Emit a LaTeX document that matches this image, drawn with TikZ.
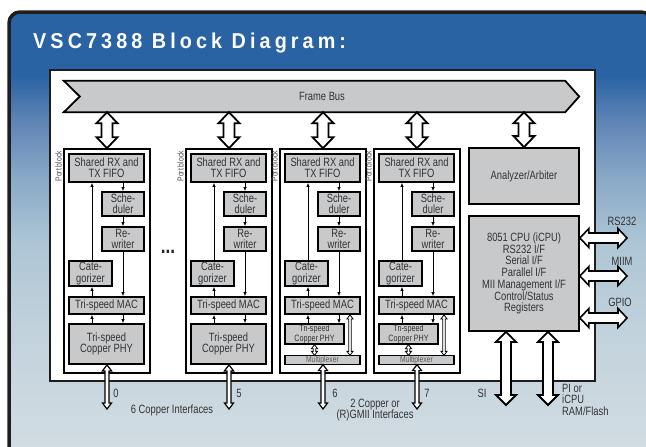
\documentclass[tikz,border=0pt]{standalone}
\usepackage{fontspec}
\setmainfont{Liberation Sans}[FakeStretch=0.78]
\newfontfamily\titlefont{Liberation Sans}[FakeStretch=0.92,LetterSpace=19]
\usetikzlibrary{calc,arrows.meta}
\definecolor{boxgrey}{HTML}{C8C9CB}
\definecolor{txt}{HTML}{333333}
\definecolor{frm}{HTML}{1E1E1E}
\definecolor{bgA}{HTML}{2963A4}
\definecolor{bgB}{HTML}{5E84B5}
\definecolor{bgC}{HTML}{8AAAC8}
\definecolor{bgD}{HTML}{ADC5D5}
\definecolor{bgE}{HTML}{C2D2DC}
\definecolor{bgF}{HTML}{D2DCE2}
\pgfdeclareverticalshading{bgshade}{100bp}{color(0bp)=(bgF); color(27.5bp)=(bgF); color(40bp)=(bgE); color(50bp)=(bgD); color(56.7bp)=(bgC); color(63.2bp)=(bgB); color(68bp)=(bgA); color(100bp)=(bgA)}
\tikzset{
  fatarrow/.style n args={3}{to path={
    let \p1=(\tikztostart), \p2=(\tikztotarget),
        \n1={atan2(\y2-\y1,\x2-\x1)}, \n2={veclen(\x2-\x1,\y2-\y1)} in
    ([shift={(\p1)},rotate=\n1]0,0)
    -- ([shift={(\p1)},rotate=\n1]#3,#1)
    -- ([shift={(\p1)},rotate=\n1]#3,#2)
    -- ([shift={(\p1)},rotate=\n1]\n2-#3,#2)
    -- ([shift={(\p1)},rotate=\n1]\n2-#3,#1)
    -- ([shift={(\p1)},rotate=\n1]\n2,0)
    -- ([shift={(\p1)},rotate=\n1]\n2-#3,-#1)
    -- ([shift={(\p1)},rotate=\n1]\n2-#3,-#2)
    -- ([shift={(\p1)},rotate=\n1]#3,-#2)
    -- ([shift={(\p1)},rotate=\n1]#3,-#1)
    -- cycle}},
  bigfat/.style={fatarrow={10.5}{5.5}{11}, draw=black, fill=white, line width=1.8pt, line join=miter},
  sifat/.style={fatarrow={10}{5}{10}, draw=black, fill=white, line width=1.8pt, line join=miter},
  sidefat/.style={fatarrow={9.5}{5}{9}, draw=black, fill=white, line width=1.6pt, line join=miter},
  portfat/.style={fatarrow={4.5}{2}{6}, draw=black, fill=white, line width=1.2pt, line join=miter},
  thinfat/.style={fatarrow={3}{1.3}{4}, draw=black, fill=white, line width=0.8pt, line join=miter},
  box/.style={draw=black, line width=1.8pt, fill=boxgrey, inner sep=0pt, align=center, text=txt, font=\fontsize{12}{11.3}\selectfont},
  smallbox/.style={box, line width=1.3pt, font=\fontsize{9.2}{7}\selectfont},
  muxbox/.style={box, line width=1.1pt, font=\fontsize{8.7}{8}\selectfont, text=black!65},
  pblock/.style={draw=black, line width=1.6pt, fill=white, inner sep=0pt},
  mainbox/.style={draw=frm, line width=2.4pt, fill=white, inner sep=0pt},
  plabel/.style={rotate=90, inner sep=0pt, font=\fontsize{8.7}{8}\selectfont, text=black!70},
  lbl/.style={inner sep=0pt, text=txt, font=\fontsize{12}{11.5}\selectfont, align=center},
  sa/.style={-{Latex[length=4pt,width=3.6pt]}, line width=0.7pt, draw=black},
}
\newcommand\bx[7]{\node[#6, minimum width={(#4-(#2))*1pt}, minimum height={(#5-(#3))*1pt}] (#1) at ({(#2+#4)/2},{(#3+#5)/2}) {#7};}
\newcommand\portblock[3]{%
  \pgfmathsetmacro\xo{#2}%
  \bx{#1blk}{\xo}{149}{\xo+86}{373}{pblock}{}
  \node[plabel, anchor=south east] (#1lab) at (\xo-2,151) {Port block};
  \bx{#1fifo}{\xo+5}{154}{\xo+80}{182}{box}{Shared RX and\\TX FIFO}
  \bx{#1sch}{\xo+38}{192}{\xo+80}{216}{box}{Sche-\\duler}
  \bx{#1rw}{\xo+38}{227}{\xo+80}{251}{box}{Re-\\writer}
  \bx{#1cat}{\xo+5}{261}{\xo+48}{286}{box}{Cate-\\gorizer}
  \bx{#1mac}{\xo+5}{297}{\xo+80}{314}{box}{Tri-speed MAC}
  \coordinate (#1L) at (\xo+28,0);
  \coordinate (#1out) at (\xo+43,409);
  \ifnum#3=1\relax
    \bx{#1phy}{\xo+5}{324}{\xo+80}{364}{box}{Tri-speed\\Copper PHY}
    \draw[portfat] (#1phy.south -| #1out) to (#1out);
  \else
    \bx{#1phy}{\xo+5}{324}{\xo+64}{344}{smallbox}{Tri-speed\\Copper PHY}
    \bx{#1mux}{\xo+5}{356}{\xo+80}{364}{muxbox}{Multiplexer}
    \coordinate (#1R) at (\xo+70,0);
    \draw[thinfat] (#1mac.south -| #1R) to (#1mux.north -| #1R);
    \draw[thinfat] (#1phy.south) to (#1mux.north -| #1phy);
    \draw[portfat] (#1mux.south -| #1out) to (#1out);
  \fi
  \draw[sa] (#1cat.north -| #1L) -- (#1fifo.south -| #1L);
  \draw[sa] (#1fifo.south -| #1sch) -- (#1sch.north);
  \draw[sa] (#1sch.south) -- (#1rw.north);
  \draw[sa] (#1rw.south) -- (#1mac.north -| #1rw);
  \draw[sa] (#1mac.north -| #1L) -- (#1cat.south -| #1L);
  \draw[sa] (#1phy.north -| #1L) -- (#1mac.south -| #1L);
  \draw[sa] (#1mac.south -| #1rw) -- (#1phy.north -| #1rw);
}
\begin{document}
\begin{tikzpicture}[x=1pt,y=-1pt]
\useasboundingbox (0,0) rectangle (646,447);
\begin{scope}
  \clip (0,0) rectangle (646,447);
  \shadedraw[shading=bgshade, draw=frm, line width=3.5pt, rounded corners=11pt] (9,12) rectangle (652,470);
\end{scope}
\node[anchor=base west, inner sep=0pt, text=white, font=\titlefont\bfseries\fontsize{21.5}{21.5}\selectfont] (title) at (33,48) {VSC7388 Block Diagram:};
\bx{main}{50}{70}{595}{381}{mainbox}{}
% frame bus
\node[minimum width=515pt, minimum height=31pt, inner sep=0pt] (bus) at (321.5,96.5) {};
\draw[fill=boxgrey, draw=black, line width=1.8pt, line join=miter]
  (bus.north west) -- ($(bus.north east)+(-14,0)$) -- (bus.east) -- ($(bus.south east)+(-14,0)$)
  -- (bus.south west) -- ($(bus.west)+(16,0)$) -- cycle;
\node[lbl] (bustext) at (322,96.5) {Frame Bus};
% port blocks
\portblock{p1}{64}{1}
\portblock{p2}{186}{1}
\portblock{p3}{280}{2}
\portblock{p4}{374}{2}
\node[lbl, text=black!85, font=\bfseries\fontsize{22}{22}\selectfont] (dots) at (168,252) {...};
% analyzer and CPU
\bx{ana}{469}{148}{579}{204}{box}{Analyzer/Arbiter}
\bx{cpu}{469}{216}{579}{331}{box, font=\fontsize{12}{11.7}\selectfont}{8051 CPU (iCPU)\\RS232 I/F\\Serial I/F\\Parallel I/F\\MII Management I/F\\Control/Status\\Registers}
% bus arrows
\foreach \b in {p1blk,p2blk,p3blk,p4blk,ana}
  \draw[bigfat] (bus.south -| \b.north) to (\b.north);
% side arrows
\coordinate (rs) at (627,238);
\coordinate (miim) at (627,276);
\coordinate (gpio) at (627,318);
\draw[sidefat] (cpu.east |- rs) to (rs);
\draw[sidefat] (cpu.east |- miim) to (miim);
\draw[sidefat] (cpu.east |- gpio) to (gpio);
\node[lbl] (rsl) at (622,221) {RS232};
\node[lbl] (miiml) at (622,261) {MIIM};
\node[lbl] (gpiol) at (620,302) {GPIO};
% bottom arrows from CPU
\coordinate (si) at (506,405);
\coordinate (pi) at (548,405);
\draw[sifat] (cpu.south -| si) to (si);
\draw[sifat] (cpu.south -| pi) to (pi);
\node[lbl] (sil) at (482,393) {SI};
\node[lbl, align=left, anchor=west] (pil) at (562,399.5) {PI or\\iCPU\\RAM/Flash};
% port labels
\node[lbl] (n0) at (116,393) {0};
\node[lbl] (n5) at (239,393) {5};
\node[lbl] (n6) at (335,393) {6};
\node[lbl] (n7) at (427,393) {7};
\node[lbl] (cu6) at (172,410) {6 Copper Interfaces};
\node[lbl] (cu2) at (375,410) {2 Copper or\\(R)GMII Interfaces};
\end{tikzpicture}
\end{document}
